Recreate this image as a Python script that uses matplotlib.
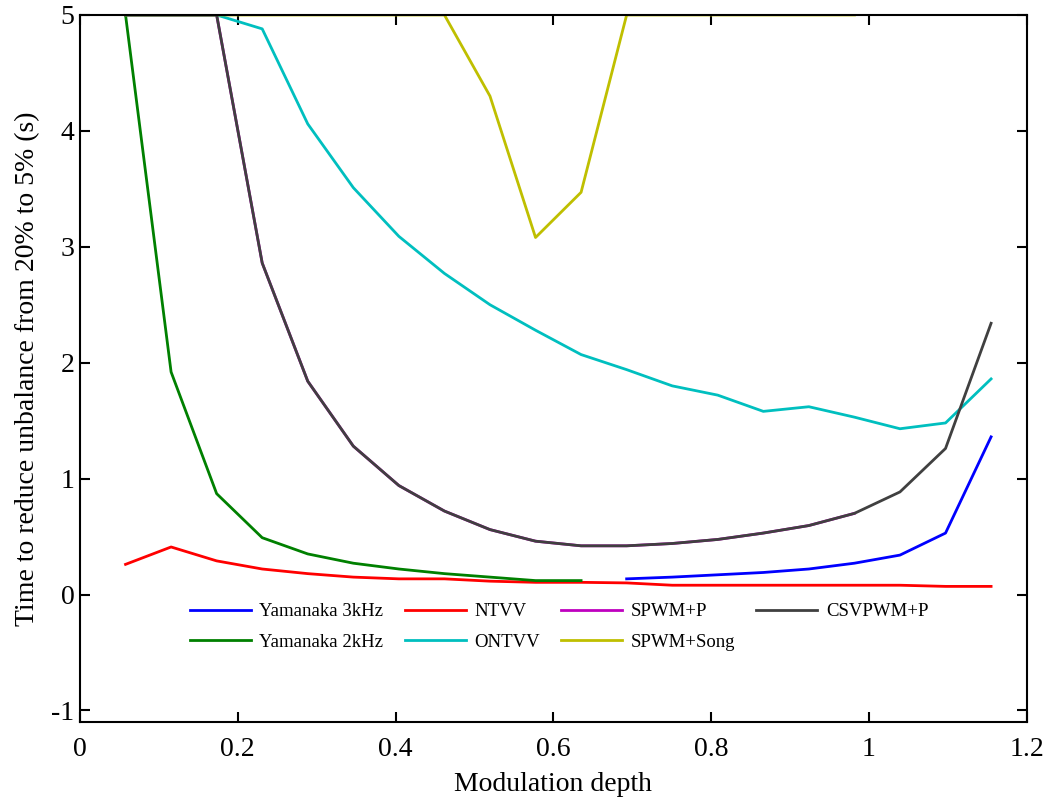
import numpy as np
import matplotlib
matplotlib.use('Agg')
import matplotlib.pyplot as plt

plt.rcParams['font.family'] = ['Liberation Serif', 'DejaVu Serif']
plt.rcParams['axes.unicode_minus'] = False

# modulation depth grid: k * (2/sqrt(3)) / 20, k = 1..20
m = np.arange(1, 21) * (2 / np.sqrt(3)) / 20

yamanaka_3k = [0.135, 0.15, 0.17, 0.19, 0.22, 0.27, 0.34, 0.53, 1.36]          # k = 12..20
ntvv = [0.26, 0.41, 0.29, 0.22, 0.18, 0.15, 0.135, 0.135, 0.115, 0.105,
        0.105, 0.10, 0.08, 0.08, 0.08, 0.08, 0.08, 0.08, 0.07, 0.07]
spwm_p = [5, 5, 5, 2.86, 1.84, 1.28, 0.94, 0.72, 0.56, 0.46,
          0.42, 0.42, 0.44, 0.475, 0.53, 0.595, 0.70]                          # k = 1..17
csvpwm_p = [5, 5, 5, 2.86, 1.84, 1.28, 0.94, 0.72, 0.56, 0.46,
            0.42, 0.42, 0.44, 0.475, 0.53, 0.595, 0.70, 0.885, 1.26, 2.34]
yamanaka_2k = [5, 1.92, 0.87, 0.49, 0.35, 0.27, 0.22, 0.18, 0.15, 0.12, 0.12]  # k = 1..11
ontvv = [5, 5, 5, 4.88, 4.06, 3.51, 3.09, 2.77, 2.50, 2.28,
         2.07, 1.94, 1.80, 1.72, 1.58, 1.62, 1.53, 1.43, 1.48, 1.86]
spwm_song = [5, 5, 5, 5, 5, 5, 5, 5, 4.30, 3.08,
             3.47, 5, 5, 5, 5, 5, 5]                                            # k = 1..17

fig = plt.figure(figsize=(10.51, 8), dpi=100)
ax = fig.add_axes([0.0761, 0.0975, 0.9009, 0.8838])

lw = 2.0
h_y3, = ax.plot(m[11:], yamanaka_3k, color='#0000ff', lw=lw, label='Yamanaka 3kHz')
h_nt, = ax.plot(m, ntvv, color='#ff0000', lw=lw, label='NTVV')
h_sp, = ax.plot(m[:17], spwm_p, color='#bf00bf', lw=lw, label='SPWM+P')
h_y2, = ax.plot(m[:11], yamanaka_2k, color='#008000', lw=lw, label='Yamanaka 2kHz')
h_on, = ax.plot(m, ontvv, color='#00bfbf', lw=lw, label='ONTVV')
h_ss, = ax.plot(m[:17], spwm_song, color='#bfbf00', lw=lw, label='SPWM+Song')
h_cs, = ax.plot(m, csvpwm_p, color='#404040', lw=lw, label='CSVPWM+P')

ax.set_xlim(0, 1.2)
ax.set_ylim(-1.1, 5)
ax.set_xticks([0, 0.2, 0.4, 0.6, 0.8, 1, 1.2])
ax.set_xticklabels(['0', '0.2', '0.4', '0.6', '0.8', '1', '1.2'])
ax.set_yticks([-1, 0, 1, 2, 3, 4, 5])
ax.tick_params(direction='in', top=True, right=True, length=7, width=1.5,
               labelsize=20)
ax.tick_params(axis='x', pad=11)
ax.tick_params(axis='y', pad=4)
for s in ax.spines.values():
    s.set_linewidth(1.5)

ax.set_xlabel('Modulation depth', fontsize=20, labelpad=7)
ax.set_ylabel('Time to reduce unbalance from 20% to 5% (s)', fontsize=20, labelpad=8)

handles = [h_y3, h_y2, h_nt, h_on, h_sp, h_ss, h_cs]
ax.legend(handles=handles, labels=[h.get_label() for h in handles], ncol=4,
          frameon=False, fontsize=13.5, loc='upper left',
          bbox_to_anchor=(0.116, 0.168), borderaxespad=0, borderpad=0,
          handlelength=3.25, handletextpad=0.46,
          columnspacing=1.13, labelspacing=0.72)

fig.savefig('out.png', dpi=100)
